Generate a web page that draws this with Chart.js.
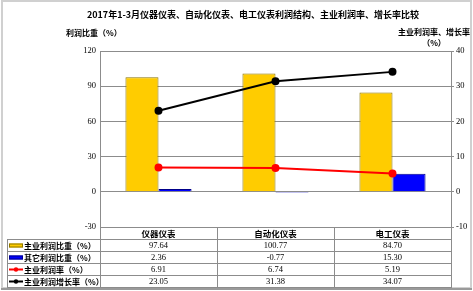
<!DOCTYPE html>
<html>
<head>
<meta charset="utf-8">
<script src="https://cdn.jsdelivr.net/npm/chart.js@4"></script>
<style>
html,body{margin:0;padding:0;background:#fff;}
canvas{display:block;}
</style>
</head>
<body>
<canvas id="c" width="473" height="291"></canvas>
<script>
const categories = ['仪器仪表', '自动化仪表', '电工仪表'];
const mainProfitShare = [97.64, 100.77, 84.70];
const otherProfitShare = [2.36, -0.77, 15.30];
const mainProfitRate = [6.91, 6.74, 5.19];
const mainProfitGrowth = [23.05, 31.38, 34.07];
const seriesNames = ['主业利润比重（%）', '其它利润比重（%）', '主业利润率（%）', '主业利润增长率（%）'];
const leftAxis = { min: -30, max: 120, step: 30 };
const rightAxis = { min: -10, max: 40, step: 10 };
const titleText = '2017年1-3月仪器仪表、自动化仪表、电工仪表利润结构、主业利润率、增长率比较';
const leftAxisTitle = '利润比重（%）';
const rightAxisTitle1 = '主业利润率、增长率';
const rightAxisTitle2 = '（%）';

const CJK = '"Noto Sans CJK SC", "Noto Sans", sans-serif';
const NUM = '"Liberation Serif", "DejaVu Serif", serif';
const GRID = '#8c8c8c';

const tablePlugin = {
  id: 'tablePlugin',
  afterDraw(chart) {
    const ctx = chart.ctx;
    const ca = chart.chartArea;
    const xs = chart.scales.x;
    const catW = (ca.right - ca.left) / categories.length;
    ctx.save();
    // outer frame
    ctx.strokeStyle = '#d0d0d0';
    ctx.lineWidth = 2;
    ctx.strokeRect(2, 1, 469, 287);
    ctx.strokeStyle = '#9a9a9a';
    ctx.lineWidth = 2;
    ctx.beginPath(); ctx.moveTo(1, 289); ctx.lineTo(472, 289); ctx.stroke();

    // titles
    ctx.fillStyle = '#000';
    ctx.textBaseline = 'middle';
    ctx.textAlign = 'center';
    ctx.font = 'bold 9px ' + CJK;
    ctx.fillText(titleText, 253, 15);
    ctx.font = 'bold 8px ' + CJK;
    ctx.textAlign = 'left';
    ctx.fillText(leftAxisTitle, 66, 33);
    ctx.textAlign = 'right';
    ctx.fillText(rightAxisTitle1, 470, 32);
    ctx.textAlign = 'center';
    ctx.fillText(rightAxisTitle2, 434, 43);

    // table grid
    const top = ca.bottom;
    const rowH = 12;
    const headerBottom = top + 12;
    const tableLeft = 7;
    const nRows = seriesNames.length;
    const tableBottom = headerBottom + rowH * nRows;
    ctx.strokeStyle = GRID;
    ctx.lineWidth = 1;
    ctx.beginPath();
    for (let i = 0; i <= categories.length; i++) {
      const x = Math.round(ca.left + i * catW) + 0.5;
      ctx.moveTo(x, top); ctx.lineTo(x, tableBottom);
    }
    ctx.moveTo(tableLeft + 0.5, headerBottom); ctx.lineTo(tableLeft + 0.5, tableBottom);
    for (let r = 0; r <= nRows; r++) {
      const y = headerBottom + r * rowH + 0.5;
      ctx.moveTo(tableLeft, y); ctx.lineTo(ca.right + 1, y);
    }
    ctx.stroke();

    // header
    ctx.fillStyle = '#000';
    ctx.textAlign = 'center';
    ctx.font = 'bold 8.5px ' + CJK;
    categories.forEach((c, i) => {
      ctx.fillText(c, xs.getPixelForValue(i), top + 6.5);
    });

    // rows
    const rows = [mainProfitShare, otherProfitShare, mainProfitRate, mainProfitGrowth];
    rows.forEach((vals, r) => {
      const yc = headerBottom + r * rowH + 6.5;
      ctx.font = '8.5px ' + NUM;
      ctx.textAlign = 'center';
      vals.forEach((v, i) => {
        ctx.fillText(v.toFixed(2), xs.getPixelForValue(i), yc);
      });
      // legend key
      const kx = 9, kw = 14;
      if (r < 2) {
        ctx.fillStyle = r === 0 ? '#ffcc00' : '#0000ff';
        ctx.strokeStyle = r === 0 ? '#8a7400' : '#00008a';
        ctx.fillRect(kx, yc - 2, kw, 4);
        ctx.strokeRect(kx + 0.5, yc - 1.5, kw - 1, 3);
      } else {
        const col = r === 2 ? '#ff0000' : '#000000';
        ctx.strokeStyle = col; ctx.fillStyle = col;
        ctx.lineWidth = 2;
        ctx.beginPath(); ctx.moveTo(kx, yc); ctx.lineTo(kx + kw, yc); ctx.stroke();
        ctx.beginPath(); ctx.arc(kx + kw / 2, yc, 2.2, 0, Math.PI * 2); ctx.fill();
        ctx.lineWidth = 1;
      }
      ctx.fillStyle = '#000';
      ctx.textAlign = 'left';
      ctx.font = 'bold 8px ' + CJK;
      ctx.fillText(seriesNames[r], kx + kw + 1, yc);
    });
    ctx.restore();
  }
};

new Chart(document.getElementById('c'), {
  type: 'bar',
  data: {
    labels: categories,
    datasets: [
      { type: 'line', label: seriesNames[2], data: mainProfitRate, yAxisID: 'y1', order: 0,
        borderColor: '#ff0000', backgroundColor: '#ff0000', borderWidth: 2,
        pointRadius: 3, pointBackgroundColor: '#ff0000', pointBorderColor: '#ff0000' },
      { type: 'line', label: seriesNames[3], data: mainProfitGrowth, yAxisID: 'y1', order: 0,
        borderColor: '#000000', backgroundColor: '#000000', borderWidth: 2,
        pointRadius: 3, pointBackgroundColor: '#000000', pointBorderColor: '#000000' },
      { label: seriesNames[0], data: mainProfitShare, yAxisID: 'y', order: 1,
        backgroundColor: '#ffcc00', borderColor: '#8a7400', borderWidth: 1,
        categoryPercentage: 0.565, barPercentage: 1 },
      { label: seriesNames[1], data: otherProfitShare, yAxisID: 'y', order: 1,
        backgroundColor: '#0000ff', borderColor: '#00008a', borderWidth: 1,
        categoryPercentage: 0.565, barPercentage: 1 }
    ]
  },
  options: {
    responsive: false,
    animation: false,
    devicePixelRatio: 1,
    layout: { padding: { top: 51, bottom: 64, left: 0, right: 0 } },
    plugins: { legend: { display: false }, tooltip: { enabled: false }, title: { display: false } },
    scales: {
      x: { display: false },
      y: {
        position: 'left', min: leftAxis.min, max: leftAxis.max,
        ticks: { stepSize: leftAxis.step, color: '#000', font: { family: NUM, size: 8.5 }, padding: 4 },
        grid: { color: GRID, lineWidth: 1, tickLength: 0 },
        border: { color: GRID, width: 1 },
        afterFit(s) { s.width = 100; }
      },
      y1: {
        position: 'right', min: rightAxis.min, max: rightAxis.max,
        ticks: { stepSize: rightAxis.step, color: '#000', font: { family: NUM, size: 8.5 }, padding: 2 },
        grid: { drawOnChartArea: false, color: GRID, tickLength: 3 },
        border: { color: GRID, width: 1 },
        afterFit(s) { s.width = 22; }
      }
    }
  },
  plugins: [tablePlugin]
});
</script>
</body>
</html>
